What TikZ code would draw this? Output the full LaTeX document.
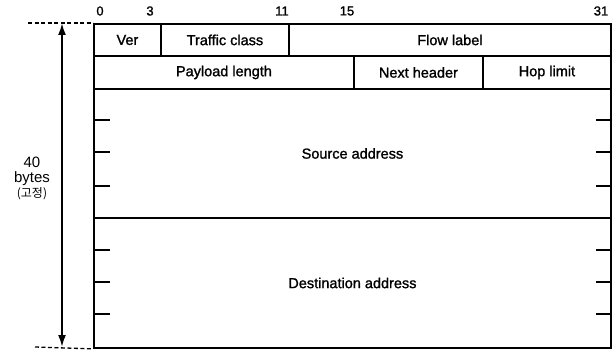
\documentclass[tikz,border=0pt]{standalone}
\usepackage{fontspec}
\setmainfont{Liberation Sans}
\newfontfamily\cellfont{Liberation Sans}[FakeBold=1.3]
\newfontfamily\krfont{Noto Sans CJK KR}
\usetikzlibrary{arrows.meta}
\begin{document}
\begin{tikzpicture}[x=1pt,y=-1pt,
  cell/.style={draw=black, line width=1.9pt, anchor=north west, inner sep=0pt,
    font=\cellfont\fontsize{14.5}{16}\selectfont},
  bitlbl/.style={font=\cellfont\fontsize{13}{15}\selectfont, inner sep=0pt},
  tickln/.style={line width=1.9pt},
  guide/.style={line width=1.3pt, dash pattern=on 4pt off 2.5pt},
  sizearrow/.style={line width=2pt, {Latex[length=12pt,width=8pt]}-{Latex[length=12pt,width=8pt]}}
]
\useasboundingbox (0,0) rectangle (614,350);
% row 1
\node[cell, minimum width=67pt, minimum height=32pt] (ver) at (93,23) {Ver};
\node[cell, minimum width=128pt, minimum height=32pt] (tc) at (160,23) {Traffic class};
\node[cell, minimum width=322pt, minimum height=32pt] (fl) at (288,23) {Flow label};
% row 2
\node[cell, minimum width=260pt, minimum height=33pt] (pl) at (93,55) {Payload length};
\node[cell, minimum width=129pt, minimum height=33pt] (nh) at (353,55) {Next header};
\node[cell, minimum width=128pt, minimum height=33pt] (hl) at (482,55) {Hop limit};
% addresses
\node[cell, minimum width=517pt, minimum height=129pt] (src) at (93,88) {Source address};
\node[cell, minimum width=517pt, minimum height=130pt] (dst) at (93,217) {Destination address};
% ticks
\foreach \yy in {120,152,186} {
  \draw[tickln] (src.west |- 0,\yy) -- ++(17,0);
  \draw[tickln] (src.east |- 0,\yy) -- ++(-16,0);
}
\foreach \yy in {250,282,314} {
  \draw[tickln] (dst.west |- 0,\yy) -- ++(17,0);
  \draw[tickln] (dst.east |- 0,\yy) -- ++(-16,0);
}
% bit numbers
\node[bitlbl] (b0) at (100,11) {0};
\node[bitlbl] (b3) at (150,11) {3};
\node[bitlbl] (b11) at (282,11) {11};
\node[bitlbl] (b15) at (347,11) {15};
\node[bitlbl] (b31) at (601,11) {31};
% size indicator
\coordinate (tl) at (28,23);
\coordinate (bl) at (35,347);
\coordinate (at) at (62,23);
\coordinate (ab) at (62,347);
\draw[guide] (tl) -- (ver.north west);
\draw[guide] (bl) -- (dst.south west);
\draw[sizearrow] (at) -- (ab);
\node[align=center, font=\fontsize{15}{15}\selectfont, inner sep=0pt] (sz) at (32,178) {40\\bytes\\{\krfont\fontsize{12}{13}\selectfont(고정)}};
\end{tikzpicture}
\end{document}
